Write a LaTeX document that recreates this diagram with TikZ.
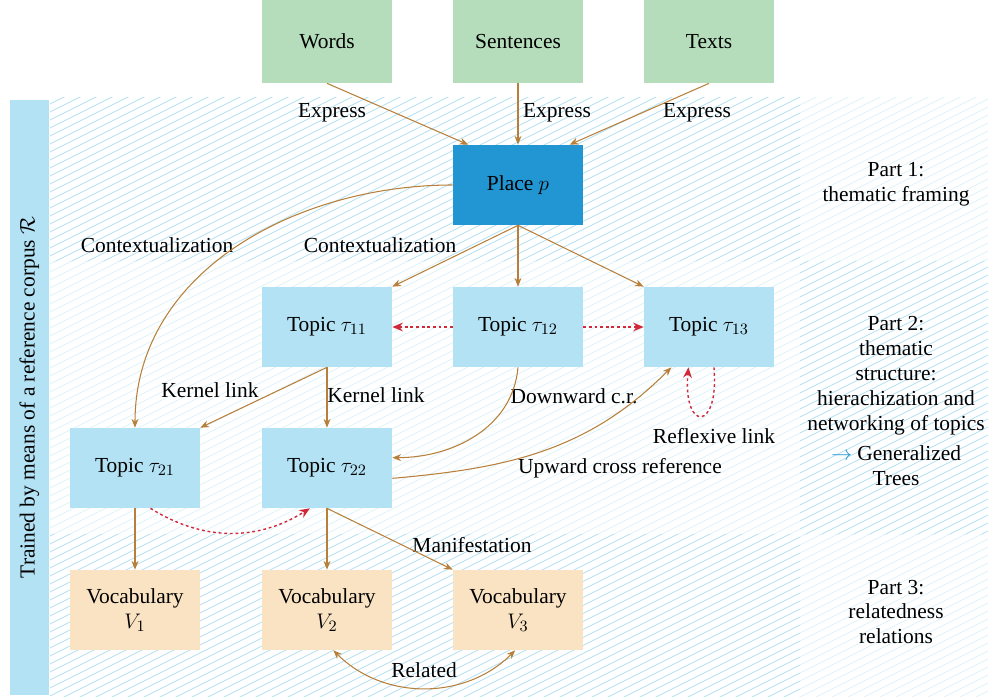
\documentclass[tikz,border=0pt]{standalone}
\usepackage{amsmath}
\usepackage{fontspec}
\setmainfont{Liberation Serif}
\usetikzlibrary{arrows.meta,shapes}

\definecolor{wordgreen}{RGB}{181,221,187}
\definecolor{placeblue}{RGB}{33,150,211}
\definecolor{topicblue}{RGB}{179,226,244}
\definecolor{vocabsand}{RGB}{249,227,195}
\definecolor{linkbrown}{RGB}{183,128,58}
\definecolor{crossred}{RGB}{208,42,58}
\definecolor{hatchdark}{RGB}{178,223,243}
\definecolor{hatchlight}{RGB}{222,241,250}

\newcommand\hatchzone[5]{%
  \begin{scope}
    \clip (#1,#2) rectangle (#3,#4);
    \foreach \k in {-496,-488,...,704}
      \draw[#5,line width=0.45pt] (0,\k) -- ++(988,494);
  \end{scope}}

\begin{document}
\begin{tikzpicture}[x=0.02cm,y=0.02cm,
			font=\fontsize{12.2}{14.2}\selectfont,
			word node/.style={rectangle,fill=wordgreen,minimum width=2.6cm,minimum height=1.66cm,inner sep=0},
			place node/.style={rectangle,fill=placeblue,minimum width=2.6cm,minimum height=1.6cm,inner sep=0},
			topic node/.style={rectangle,fill=topicblue,minimum width=2.6cm,minimum height=1.6cm,inner sep=0},
			vocab node/.style={rectangle,fill=vocabsand,minimum width=2.6cm,minimum height=1.6cm,inner sep=0,align=center},
			link/.style={-{Stealth[length=5pt,width=4pt]},linkbrown,line width=0.6pt},
			cross link/.style={-{Stealth[length=6pt,width=5pt]},crossred,line width=0.8pt,dash pattern=on 1.6pt off 1.6pt},
			label node/.style={inner sep=1pt},
			part node/.style={align=center}
			]

			\useasboundingbox (0,0) rectangle (988,697);

			\hatchzone{50}{435}{800}{599}{hatchdark}
			\hatchzone{800}{435}{988}{599}{hatchlight}
			\hatchzone{50}{162}{800}{435}{hatchlight}
			\hatchzone{800}{162}{988}{435}{hatchdark}
			\hatchzone{50}{0}{800}{162}{hatchdark}
			\hatchzone{800}{0}{988}{162}{hatchlight}

			\node[fill=topicblue,rotate=90,minimum width=11.9cm,minimum height=0.78cm,inner sep=0] at (29.5,299.5) (corpus) {Trained by means of a reference corpus $\mathcal{R}$};

			\node[word node] at (327,655.5) (words) {Words};
			\node[word node] at (518,655.5) (sentences) {Sentences};
			\node[word node] at (709,655.5) (texts) {Texts};

			\node[place node] at (518,512) (place) {Place $p$};

			\node[topic node] at (327,370) (t11) {Topic $\tau_{11}$};
			\node[topic node] at (518,370) (t12) {Topic $\tau_{12}$};
			\node[topic node] at (709,370) (t13) {Topic $\tau_{13}$};
			\node[topic node] at (135,229) (t21) {Topic $\tau_{21}$};
			\node[topic node] at (327,229) (t22) {Topic $\tau_{22}$};

			\node[vocab node] at (135,87) (v1) {Vocabulary\\$V_1$};
			\node[vocab node] at (327,87) (v2) {Vocabulary\\$V_2$};
			\node[vocab node] at (518,87) (v3) {Vocabulary\\$V_3$};

			\node[label node] at (332,584) (ex1) {Express};
			\node[label node] at (557,584) (ex2) {Express};
			\node[label node] at (697,584) (ex3) {Express};
			\node[label node] at (157,452) (ctx1) {Contextualization};
			\node[label node] at (380,452) (ctx2) {Contextualization};
			\node[label node] at (210,307) (kl1) {Kernel link};
			\node[label node] at (376,302) (kl2) {Kernel link};
			\node[label node] at (574,301) (down) {Downward c.r.};
			\node[label node] at (620,229) (up) {Upward cross reference};
			\node[label node] at (714,261) (refl) {Reflexive link};
			\node[label node] at (472,152) (man) {Manifestation};
			\node[label node] at (424,27) (rel) {Related};

			\node[part node] at (896,513) (part1) {Part 1:\\thematic framing};
			\node[part node] at (896,296) (part2) {Part 2:\\thematic\\structure:\\hierachization and\\networking of topics\\[3pt]\textcolor{placeblue}{$\rightarrow$} Generalized\\Trees};
			\node[part node] at (896,85) (part3) {Part 3:\\relatedness\\relations};

			\draw[link] (words.south) -- (place.141);
			\draw[link] (sentences.south) -- (place.north);
			\draw[link] (texts.south) -- (place.38);

			\draw[link] (place.west) to[out=180,in=90] (t21.north);
			\draw[link] (place.south) -- (t11.north east);
			\draw[link] (place.south) -- (t12.north);
			\draw[link] (place.south) -- (t13.north west);

			\draw[cross link] (t12.west) -- (t11.east);
			\draw[cross link] (t12.east) -- (t13.west);
			\draw[cross link] (t13.-83) to[out=-85,in=-95,distance=1.3cm] (t13.-117);

			\draw[link] (t11.south) -- (t21.north east);
			\draw[link] (t11.south) -- (t22.north);
			\draw[link] (t12.south) to[out=-95,in=0] (t22.9);
			\draw[link] (t22.-9) to[out=5,in=225] (t13.-133);

			\draw[cross link] (t21.-69) to[out=-32,in=-148] (t22.-113);

			\draw[link] (t21.south) -- (v1.north);
			\draw[link] (t22.south) -- (v2.north);
			\draw[link] (t22.south) -- (v3.north west);
			\draw[link,{Stealth[length=5pt,width=4pt]}-{Stealth[length=5pt,width=4pt]}] (v2.-81) to[out=-45,in=-135] (v3.-94);
		\end{tikzpicture}
\end{document}
